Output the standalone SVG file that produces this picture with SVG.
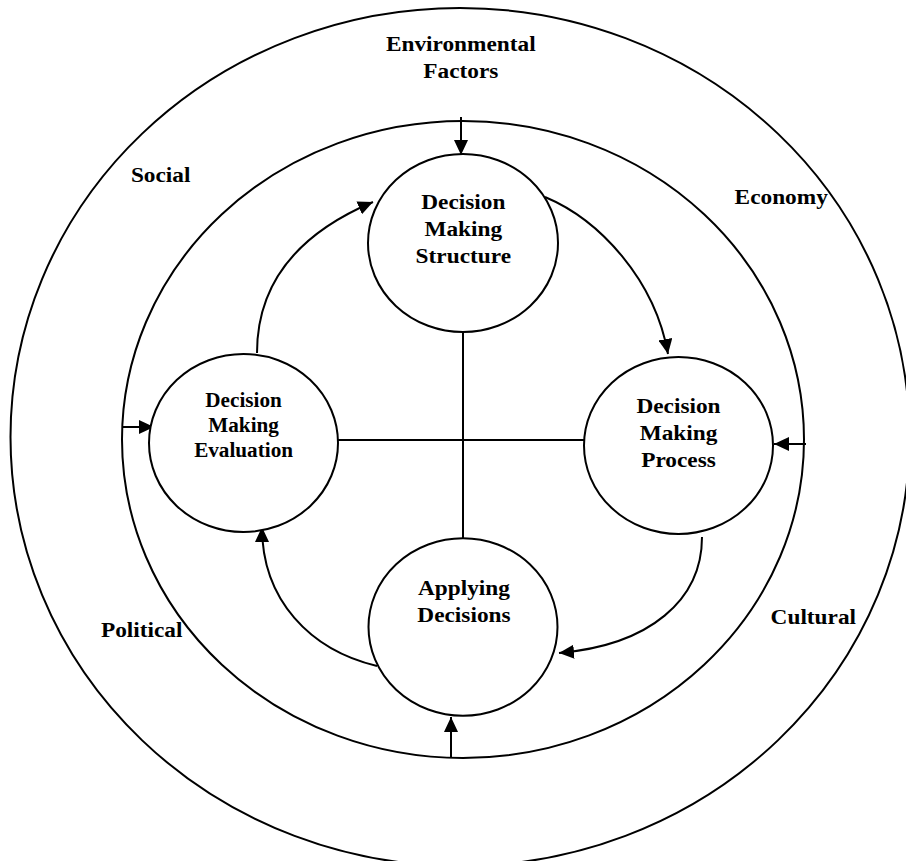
<svg xmlns="http://www.w3.org/2000/svg" width="906" height="861" viewBox="0 0 906 861">
<style>
.ring{fill:none;stroke:#000;stroke-width:2}
.node{fill:#fff;stroke:#000;stroke-width:2}
.conn{fill:none;stroke:#000;stroke-width:2}
text{font-family:"Liberation Serif","Times New Roman",serif;font-weight:bold;font-size:22px;text-anchor:middle;fill:#000}
.small{font-size:20px}
</style>
<defs>
<marker id="ah" markerUnits="userSpaceOnUse" markerWidth="15" markerHeight="14" refX="15" refY="7" orient="auto">
<path d="M0,0 L15,7 L0,14 z" fill="#000"/>
</marker>
</defs>
<rect width="906" height="861" fill="#fff"/>
<g id="rings">
<ellipse class="ring" cx="460" cy="437" rx="449.5" ry="429"/>
<ellipse class="ring" cx="463" cy="439.5" rx="341" ry="318.5"/>
</g>
<g id="labels">
<text transform="scale(1.06 1)" x="434.7" y="50.7">Environmental</text>
<text transform="scale(1.06 1)" x="434.7" y="78.3">Factors</text>
<text transform="scale(1.06 1)" x="151.6" y="182.3">Social</text>
<text transform="scale(1.06 1)" x="737" y="204">Economy</text>
<text transform="scale(1.06 1)" x="133.7" y="636.7">Political</text>
<text transform="scale(1.06 1)" x="767.3" y="624">Cultural</text>
</g>
<g id="connectors">
<line class="conn" x1="463" y1="332" x2="463" y2="538"/>
<line class="conn" x1="338" y1="440" x2="584" y2="440"/>
<path class="conn" marker-end="url(#ah)" d="M461,117 L461,155"/>
<path class="conn" marker-end="url(#ah)" d="M806,444 L774,444"/>
<path class="conn" marker-end="url(#ah)" d="M123,427 L154,427"/>
<path class="conn" marker-end="url(#ah)" d="M451,758 L451,717"/>
<path class="conn" marker-end="url(#ah)" d="M257,353 C257,285 295,235 373,202"/>
<path class="conn" marker-end="url(#ah)" d="M545,197 C600,220 655,280 668,354"/>
<path class="conn" marker-end="url(#ah)" d="M702,537 C702,600 650,645 559,653"/>
<path class="conn" marker-end="url(#ah)" d="M377,666 C310,650 262,600 262,527"/>
</g>
<g id="structure">
<ellipse class="node" cx="463" cy="243" rx="95" ry="89"/>
<text transform="scale(1.06 1)" x="437.1" y="209">Decision</text>
<text transform="scale(1.06 1)" x="437.1" y="236.5">Making</text>
<text transform="scale(1.06 1)" x="437.1" y="263.5">Structure</text>
</g>
<g id="evaluation">
<ellipse class="node" cx="243.5" cy="443" rx="94.5" ry="89"/>
<text class="small" transform="scale(1.06 1)" x="229.8" y="407.3">Decision</text>
<text class="small" transform="scale(1.06 1)" x="229.8" y="432.3">Making</text>
<text class="small" transform="scale(1.06 1)" x="229.8" y="456.8">Evaluation</text>
</g>
<g id="process">
<ellipse class="node" cx="678.5" cy="445.5" rx="94.5" ry="88.5"/>
<text transform="scale(1.06 1)" x="640.1" y="412.7">Decision</text>
<text transform="scale(1.06 1)" x="640.1" y="440">Making</text>
<text transform="scale(1.06 1)" x="640.1" y="467.5">Process</text>
</g>
<g id="applying">
<ellipse class="node" cx="463" cy="627" rx="94.5" ry="88.7"/>
<text transform="scale(1.06 1)" x="437.7" y="595">Applying</text>
<text transform="scale(1.06 1)" x="437.7" y="621.7">Decisions</text>
</g>
</svg>
